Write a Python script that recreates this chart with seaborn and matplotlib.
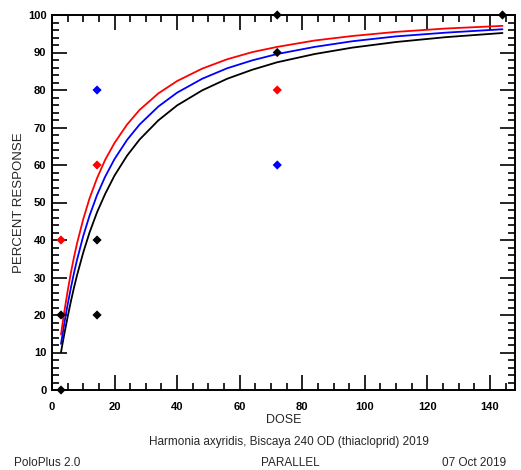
import matplotlib
matplotlib.use("Agg")
import matplotlib.pyplot as plt
import seaborn as sns
import pandas as pd
from matplotlib.ticker import MultipleLocator

# ---- data ----
curve_dose = [2.88, 3.5, 4, 5, 6, 7, 8, 10, 12, 14.4, 17, 20, 24, 28, 34, 40,
              48, 56, 64, 72, 84, 96, 110, 126, 144]
red_curve = [14.8, 18.4, 21.2, 26.4, 31.1, 35.3, 39.1, 45.6, 51.1, 56.5, 61.4,
             65.9, 70.8, 74.7, 79.1, 82.4, 85.7, 88.2, 90.1, 91.5, 93.2, 94.4,
             95.5, 96.4, 97.1]
blue_curve = [12.3, 15.5, 18.1, 22.8, 27.1, 31.1, 34.7, 41.1, 46.5, 52.0, 56.9,
              61.6, 66.7, 70.8, 75.6, 79.3, 83.0, 85.8, 87.9, 89.6, 91.5, 93.0,
              94.3, 95.3, 96.2]
black_curve = [10.1, 13.0, 15.2, 19.5, 23.5, 27.2, 30.6, 36.7, 42.0, 47.4, 52.3,
               57.2, 62.5, 66.8, 71.9, 75.9, 79.9, 83.0, 85.4, 87.4, 89.6, 91.3,
               92.8, 94.1, 95.2]

red_dose = [2.88, 14.4, 72]
red_resp = [40, 60, 80]
blue_dose = [14.4, 72]
blue_resp = [80, 60]
black_dose = [2.88, 2.88, 14.4, 14.4, 72, 72, 144]
black_resp = [0, 20, 20, 40, 90, 100, 100]

x_ticks = [0, 20, 40, 60, 80, 100, 120, 140]
y_ticks = [0, 10, 20, 30, 40, 50, 60, 70, 80, 90, 100]

colors = {"red": "#ff0000", "blue": "#0000ff", "black": "#000000"}

sns.set_theme(style="ticks")
plt.rcParams["font.family"] = ["Liberation Sans", "DejaVu Sans"]

curves = pd.DataFrame({
    "dose": curve_dose * 3,
    "resp": red_curve + blue_curve + black_curve,
    "grp": ["red"] * len(curve_dose) + ["blue"] * len(curve_dose) + ["black"] * len(curve_dose),
})
pts = pd.DataFrame({
    "dose": red_dose + blue_dose + black_dose,
    "resp": red_resp + blue_resp + black_resp,
    "grp": ["red"] * len(red_dose) + ["blue"] * len(blue_dose) + ["black"] * len(black_dose),
})

fig = plt.figure(figsize=(5.21, 4.70), dpi=100)
ax = fig.add_axes([52 / 521, 80 / 470, 463 / 521, 375 / 470])

sns.lineplot(data=curves, x="dose", y="resp", hue="grp", palette=colors,
             hue_order=["black", "blue", "red"], linewidth=1.3, legend=False,
             ax=ax, sort=True, estimator=None)
sns.scatterplot(data=pts, x="dose", y="resp", hue="grp", palette=colors,
                hue_order=["red", "blue", "black"], marker="D", s=22,
                edgecolor="none", legend=False, ax=ax, clip_on=False, zorder=5)

ax.set_xlim(0, 148)
ax.set_ylim(0, 100)
ax.set_xticks(x_ticks)
ax.set_yticks(y_ticks)
ax.xaxis.set_minor_locator(MultipleLocator(5))
ax.yaxis.set_minor_locator(MultipleLocator(2))
ax.tick_params(which="both", direction="in", top=True, right=True,
               width=1.2, colors="black")
ax.tick_params(which="major", length=11, labelsize=8)
ax.tick_params(which="minor", length=5)
ax.tick_params(axis="x", which="major", pad=9)
ax.tick_params(axis="y", which="major", pad=4)
for lab in ax.get_xticklabels() + ax.get_yticklabels():
    lab.set_fontweight("bold")
for sp in ax.spines.values():
    sp.set_linewidth(1.4)
    sp.set_color("black")

ax.set_xlabel("DOSE", fontsize=9, labelpad=1)
ax.set_ylabel("PERCENT RESPONSE", fontsize=9.5, labelpad=2)

fig.text(289 / 521, 1 - 442 / 470, "Harmonia axyridis, Biscaya 240 OD (thiacloprid) 2019",
         ha="center", va="center", fontsize=8.5)
fig.text(14 / 521, 1 - 463 / 470, "PoloPlus 2.0", ha="left", va="center", fontsize=8.5)
fig.text(290 / 521, 1 - 463 / 470, "PARALLEL", ha="center", va="center", fontsize=8.5)
fig.text(506 / 521, 1 - 463 / 470, "07 Oct 2019", ha="right", va="center", fontsize=8.5)

fig.savefig("out.png", dpi=100)
